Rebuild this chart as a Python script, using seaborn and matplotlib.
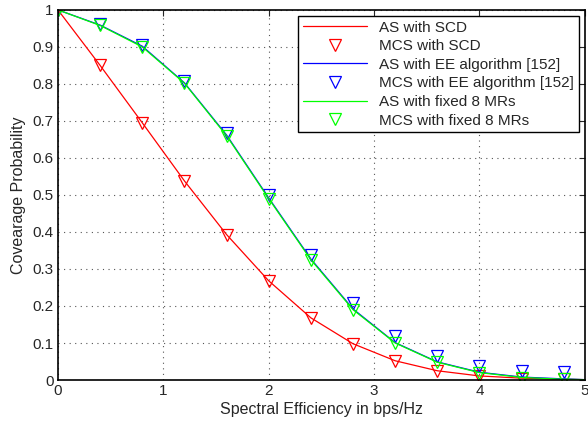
import numpy as np
import pandas as pd
import matplotlib
matplotlib.use("Agg")
import matplotlib.pyplot as plt
import seaborn as sns

# spectral efficiency points (bps/Hz)
x_mcs = [0, 0.4, 0.8, 1.2, 1.6, 2.0, 2.4, 2.8, 3.2, 3.6, 4.0, 4.4, 4.8]
x_as = [0, 0.4, 0.8, 1.2, 1.6, 2.0, 2.4, 2.8, 3.2, 3.6, 4.0, 4.4, 4.8, 5.0]

# analytical (AS) curves
as_scd = [1.0, 0.85, 0.695, 0.538, 0.393, 0.268, 0.168, 0.098, 0.052, 0.025, 0.011, 0.005, 0.002, 0.001]
as_ee = [1.0, 0.959, 0.902, 0.803, 0.662, 0.492, 0.327, 0.192, 0.101, 0.049, 0.021, 0.008, 0.003, 0.001]
as_fixed = [1.0, 0.958, 0.9, 0.802, 0.66, 0.49, 0.325, 0.19, 0.1, 0.048, 0.02, 0.007, 0.002, 0.001]

# Monte Carlo simulation (MCS) points
mcs_scd = [1.0, 0.85, 0.695, 0.538, 0.393, 0.268, 0.168, 0.098, 0.052, 0.025, 0.01, 0.004, 0.002]
mcs_ee = [1.0, 0.962, 0.905, 0.808, 0.668, 0.5, 0.337, 0.207, 0.118, 0.065, 0.038, 0.025, 0.021]
mcs_fixed = [1.0, 0.958, 0.9, 0.802, 0.66, 0.49, 0.325, 0.19, 0.1, 0.05, 0.02, 0.006, 0.002]

sns.set_style("white")
plt.rcParams["font.family"] = ["Liberation Sans", "DejaVu Sans"]

fig = plt.figure(figsize=(5.88, 4.22), dpi=100)
ax = fig.add_axes([0.0986, 0.0995, 0.896, 0.877])

series = [
    ("AS with SCD", "MCS with SCD", as_scd, mcs_scd, "#ff0000"),
    ("AS with EE algorithm [152]", "MCS with EE algorithm [152]", as_ee, mcs_ee, "#0000ff"),
    ("AS with fixed 8 MRs", "MCS with fixed 8 MRs", as_fixed, mcs_fixed, "#00ff00"),
]
for as_lbl, mcs_lbl, as_vals, mcs_vals, col in series:
    sns.lineplot(x=x_as, y=as_vals, color=col, lw=0.9, label=as_lbl, ax=ax)
    sns.lineplot(x=x_mcs, y=mcs_vals, color=col, linestyle="none", marker="v",
                 markersize=9, markerfacecolor="none", markeredgecolor=col,
                 markeredgewidth=0.9, label=mcs_lbl, ax=ax)

ax.set_xlim(0, 5)
ax.set_ylim(0, 1)
ax.set_xticks(np.arange(0, 6, 1))
ax.set_yticks(np.round(np.arange(0, 1.01, 0.1), 1))
ax.set_yticklabels(["0", "0.1", "0.2", "0.3", "0.4", "0.5", "0.6", "0.7", "0.8", "0.9", "1"])
ax.tick_params(direction="in", top=True, right=True, labelsize=11, length=4, pad=3)
ax.grid(True, linestyle=(0, (1, 4)), color="#555555", linewidth=0.8)
for s in ax.spines.values():
    s.set_color("black")
    s.set_linewidth(1.2)

ax.set_xlabel("Spectral Efficiency in bps/Hz", fontsize=11.5, labelpad=3)
ax.set_ylabel("Covearage Probability", fontsize=11.5, labelpad=5)

leg = ax.legend(loc="upper right", fontsize=11, frameon=True, fancybox=False,
                edgecolor="black", framealpha=1, borderaxespad=0.4,
                handlelength=4.2, labelspacing=0.3, borderpad=0.3)
leg.get_frame().set_linewidth(1.0)

fig.savefig("out.png", dpi=100)
